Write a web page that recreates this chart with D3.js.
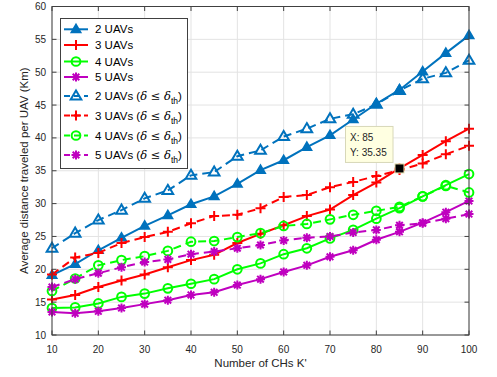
<!DOCTYPE html>
<html>
<head>
<meta charset="utf-8">
<script src="https://cdn.jsdelivr.net/npm/d3@7"></script>
<style>
  body { margin: 0; background: #fff; }
  svg { font-family: "Liberation Sans", Arial, sans-serif; }
</style>
</head>
<body>
<svg width="497" height="377"></svg>
<script>
// number of CHs
var ks = [10, 15, 20, 25, 30, 35, 40, 45, 50, 55, 60, 65, 70, 75, 80, 85, 90, 95, 100];

var uav2 = [19.1, 20.8, 22.9, 24.8, 26.6, 28.2, 29.9, 31.1, 33.0, 35.1, 36.6, 38.6, 40.4, 42.8, 45.2, 47.3, 50.1, 52.9, 55.6];
var uav3 = [15.4, 16.1, 17.3, 18.3, 19.2, 20.3, 21.4, 22.2, 24.0, 25.4, 26.7, 28.1, 29.1, 31.3, 33.2, 35.35, 37.4, 39.5, 41.4];
var uav4 = [14.1, 14.2, 14.8, 15.8, 16.3, 17.1, 17.8, 18.5, 20.0, 20.9, 22.3, 23.2, 24.7, 26.0, 27.7, 29.3, 31.1, 32.8, 34.5];
var uav5 = [13.5, 13.3, 13.6, 14.1, 14.7, 15.3, 16.1, 16.5, 17.6, 18.5, 19.6, 20.6, 21.9, 22.9, 24.5, 25.7, 27.1, 28.7, 30.4];
var uav2th = [23.2, 25.5, 27.5, 29.0, 30.8, 32.0, 34.3, 34.8, 37.2, 38.1, 40.2, 41.4, 42.9, 43.6, 45.1, 47.2, 49.0, 49.9, 51.8];
var uav3th = [19.2, 21.8, 22.5, 24.0, 24.9, 25.7, 27.0, 28.1, 28.3, 29.3, 31.0, 31.3, 32.5, 33.3, 34.2, 35.1, 36.1, 37.5, 38.8];
var uav4th = [16.7, 18.6, 20.6, 21.4, 22.0, 22.8, 24.2, 24.3, 24.9, 25.5, 26.6, 26.9, 27.6, 28.3, 28.9, 29.5, 31.1, 32.7, 31.7];
var uav5th = [17.3, 18.5, 19.4, 20.3, 21.1, 21.5, 22.3, 22.7, 23.2, 23.7, 24.4, 24.8, 25.0, 25.6, 26.0, 26.7, 27.0, 27.7, 28.4];

var xTicks = [10, 20, 30, 40, 50, 60, 70, 80, 90, 100];
var yTicks = [10, 15, 20, 25, 30, 35, 40, 45, 50, 55, 60];

var names = ["2 UAVs", "3 UAVs", "4 UAVs", "5 UAVs", "2 UAVs", "3 UAVs", "4 UAVs", "5 UAVs"];
var values = [uav2, uav3, uav4, uav5, uav2th, uav3th, uav4th, uav5th];
var colors = ["#0072BD", "#FF0000", "#00FF00", "#BF00BF", "#0072BD", "#FF0000", "#00FF00", "#BF00BF"];
var markers = ["tri", "plus", "circle", "star", "tri", "plus", "circle", "star"];
var dashed = [false, false, false, false, true, true, true, true];

var pLeft = 52, pRight = 469, pTop = 6.5, pBottom = 335;

var svg = d3.select("svg");

var x = d3.scaleLinear().domain([10, 100]).range([pLeft, pRight]);
var y = d3.scaleLinear().domain([10, 60]).range([pBottom, pTop]);

// grid
svg.append("g").selectAll("line").data(xTicks).enter().append("line")
    .attr("x1", d => x(d)).attr("x2", d => x(d))
    .attr("y1", pTop).attr("y2", pBottom)
    .style("stroke", "#e3e3e3").style("stroke-width", 1);
svg.append("g").selectAll("line").data(yTicks).enter().append("line")
    .attr("x1", pLeft).attr("x2", pRight)
    .attr("y1", d => y(d)).attr("y2", d => y(d))
    .style("stroke", "#e3e3e3").style("stroke-width", 1);

function markerPath(type, big) {
    if (type == "tri") {
        var s = big ? 5.6 : 4.6;
        return "M0," + (-s) + "L" + (s * 0.95) + "," + (s * 0.62) + "L" + (-s * 0.95) + "," + (s * 0.62) + "Z";
    }
    if (type == "plus") return "M-5,0H5M0,-5V5";
    if (type == "circle") return d3.symbol(d3.symbolCircle, 60)();
    return "M-4.5,0H4.5M0,-4.5V4.5M-3.3,-3.3L3.3,3.3M-3.3,3.3L3.3,-3.3";
}

function drawMarker(g, i, cx, cy) {
    var m = markers[i];
    var p = g.append("path")
        .attr("d", markerPath(m, dashed[i]))
        .attr("transform", "translate(" + cx + "," + cy + ")")
        .style("stroke", colors[i])
        .style("stroke-width", 2)
        .style("stroke-linejoin", "miter");
    if (m == "tri" && !dashed[i]) p.style("fill", colors[i]);
    else p.style("fill", "none");
}

var line = d3.line()
    .x(d => x(d[0]))
    .y(d => y(d[1]));

values.forEach(function(vals, i) {
    var pts = ks.map((k, j) => [k, vals[j]]);
    var g = svg.append("g");
    g.append("path")
        .attr("d", line(pts))
        .style("fill", "none")
        .style("stroke", colors[i])
        .style("stroke-width", 2)
        .style("stroke-dasharray", dashed[i] ? "8,5" : null);
    pts.forEach(function(p) {
        drawMarker(g, i, x(p[0]), y(p[1]));
    });
});

// axes box
svg.append("rect")
    .attr("x", pLeft).attr("y", pTop)
    .attr("width", pRight - pLeft).attr("height", pBottom - pTop)
    .style("fill", "none").style("stroke", "#404040").style("stroke-width", 1);

var tl = 4.5;
var ticks = svg.append("g").style("stroke", "#404040").style("stroke-width", 1);
xTicks.forEach(function(t) {
    ticks.append("line").attr("x1", x(t)).attr("x2", x(t)).attr("y1", pBottom).attr("y2", pBottom - tl);
    ticks.append("line").attr("x1", x(t)).attr("x2", x(t)).attr("y1", pTop).attr("y2", pTop + tl);
});
yTicks.forEach(function(t) {
    ticks.append("line").attr("x1", pLeft).attr("x2", pLeft + tl).attr("y1", y(t)).attr("y2", y(t));
    ticks.append("line").attr("x1", pRight).attr("x2", pRight - tl).attr("y1", y(t)).attr("y2", y(t));
});

svg.append("g").selectAll("text").data(xTicks).enter().append("text")
    .attr("x", d => x(d)).attr("y", 352.5)
    .attr("text-anchor", "middle")
    .style("font-size", "10px").style("fill", "#262626")
    .text(d => d);
svg.append("g").selectAll("text").data(yTicks).enter().append("text")
    .attr("x", 46).attr("y", d => y(d)).attr("dy", "0.35em")
    .attr("text-anchor", "end")
    .style("font-size", "10px").style("fill", "#262626")
    .text(d => d);

svg.append("text")
    .attr("x", (pLeft + pRight) / 2).attr("y", 367)
    .attr("text-anchor", "middle")
    .style("font-size", "11.5px").style("fill", "#262626")
    .text("Number of CHs K'");
svg.append("text")
    .attr("transform", "translate(28," + (pTop + pBottom) / 2 + ") rotate(-90)")
    .attr("text-anchor", "middle")
    .style("font-size", "11.5px").style("fill", "#262626")
    .text("Average distance traveled per UAV (Km)");

// data tip on 3 UAVs at K' = 85
var tipX = x(ks[15]), tipY = y(uav3[15]);
svg.append("rect")
    .attr("x", tipX - 54).attr("y", tipY - 42)
    .attr("width", 47.5).attr("height", 36)
    .style("fill", "#ffffe1").style("stroke", "#d8d8b8").style("stroke-width", 1);
svg.append("text").attr("x", tipX - 49.5).attr("y", tipY - 27)
    .style("font-size", "10px").style("fill", "#262626").text("X: " + ks[15]);
svg.append("text").attr("x", tipX - 49.5).attr("y", tipY - 12.5)
    .style("font-size", "10px").style("fill", "#262626").text("Y: " + uav3[15]);
svg.append("rect")
    .attr("x", tipX - 4.5).attr("y", tipY - 4.5)
    .attr("width", 9).attr("height", 9)
    .style("fill", "#000").style("stroke", "#e8e0b0").style("stroke-width", 1);

// legend
var rowY = [29.3, 45, 61.5, 77, 96, 115.5, 135.5, 155];
var leg = svg.append("g");
leg.append("rect")
    .attr("x", 60.5).attr("y", 18.5).attr("width", 127).attr("height", 150)
    .style("fill", "#fff").style("stroke", "#404040").style("stroke-width", 1);
names.forEach(function(n, i) {
    var ry = rowY[i];
    leg.append("line")
        .attr("x1", 64).attr("x2", 88).attr("y1", ry).attr("y2", ry)
        .style("stroke", colors[i]).style("stroke-width", 2)
        .style("stroke-dasharray", dashed[i] ? "6,4" : null);
    drawMarker(leg, i, 76, ry);
    var t = leg.append("text")
        .attr("x", 95).attr("y", ry + 4)
        .style("font-size", "11.5px").style("fill", "#000");
    t.append("tspan").text(n);
    if (dashed[i]) {
        t.append("tspan").text(" (");
        t.append("tspan").style("font-family", "'DejaVu Serif', serif").style("font-style", "italic").text("δ");
        t.append("tspan").style("font-family", "'DejaVu Serif', serif").text(" ≤ ");
        t.append("tspan").style("font-family", "'DejaVu Serif', serif").style("font-style", "italic").text("δ");
        t.append("tspan").attr("dy", 4).style("font-size", "8.5px").text("th");
        t.append("tspan").attr("dy", -4).text(")");
    }
});
</script>
</body>
</html>
